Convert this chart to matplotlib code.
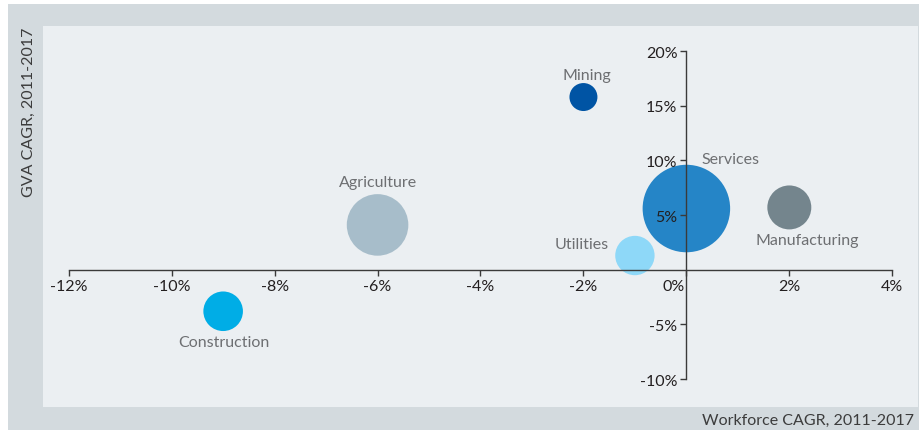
import matplotlib
matplotlib.use("Agg")
import matplotlib.pyplot as plt
from matplotlib.patches import Rectangle
from matplotlib.ticker import FuncFormatter
import matplotlib.transforms as mtransforms

plt.rcParams['font.family'] = ['Lato', 'DejaVu Sans']

# sector data: workforce growth vs. output growth, bubble area ~ sector size
sectors = ["Mining", "Services", "Manufacturing", "Agriculture", "Utilities", "Construction"]
workforce_cagr = [-2.0, 0.0, 2.0, -6.0, -1.0, -9.0]
gva_cagr = [15.8, 5.6, 5.7, 4.1, 1.3, -3.8]
bubble_weight = [196, 1918, 484, 949, 388, 392]

colors = ["#0054a4", "#2585c7", "#74858d", "#a7bdca", "#8ed8f8", "#00ade6"]
# label placement relative to each bubble centre, in pixels
label_offsets = [(3, 22), (44, 50), (18, -33), (0, 43), (-53, 12), (1, -31)]

x_ticks = [-12, -10, -8, -6, -4, -2, 0, 2, 4]
y_ticks = [-10, -5, 5, 10, 15, 20]

W, H = 920, 431
fig = plt.figure(figsize=(W / 100, H / 100), dpi=100)
fig.patch.set_facecolor("white")

# outer grey frame
fig.patches.append(Rectangle((8 / W, 0), 1, (H - 5) / H, transform=fig.transFigure,
                             facecolor="#d3dade", edgecolor="none", zorder=-1))

ax = fig.add_axes([43 / W, (H - 408) / H, 875 / W, 381 / H])
ax.set_facecolor("#ebeff2")
ax.set_xlim(-12.5, 4.5)
ax.set_ylim(-12.56, 22.3)

sizes = [2.07 * w for w in bubble_weight]
ax.scatter(workforce_cagr, gva_cagr, s=sizes, c=colors, linewidths=0, zorder=1)

for name, x, y, off in zip(sectors, workforce_cagr, gva_cagr, label_offsets):
    ax.annotate(name, (x, y), xytext=off, textcoords="offset pixels",
                ha="center", va="center", fontsize=11.5, color="#6d6f72")

# axes crossing at the origin
for side in ["top", "right"]:
    ax.spines[side].set_visible(False)
ax.spines["left"].set_position(("data", 0))
ax.spines["bottom"].set_position(("data", 0))
ax.spines["left"].set_bounds(-10, 20)
ax.spines["bottom"].set_bounds(-12, 4)
for side in ["left", "bottom"]:
    ax.spines[side].set_color("#3a3a3a")
    ax.spines[side].set_linewidth(1.0)

ax.set_xticks(x_ticks)
ax.set_yticks(y_ticks)
pct = FuncFormatter(lambda v, p: "%d%%" % v)
ax.xaxis.set_major_formatter(pct)
ax.yaxis.set_major_formatter(pct)
ax.tick_params(axis="both", direction="out", length=4.5, width=1.0, color="#3a3a3a",
               labelsize=11.5, labelcolor="#231f20", pad=2)

fig.canvas.draw()
# nudge the 0% label off the vertical axis
for lbl in ax.get_xticklabels():
    if lbl.get_text() == "0%":
        lbl.set_transform(lbl.get_transform() +
                          mtransforms.ScaledTranslation(-13 / 100, 0, fig.dpi_scale_trans))

fig.text(29 / W, 1 - 112 / H, "GVA CAGR, 2011-2017", rotation=90, ha="center", va="center",
         fontsize=11.5, color="#3c3c3c")
fig.text(914 / W, 1 - 421 / H, "Workforce CAGR, 2011-2017", ha="right", va="center",
         fontsize=11.5, color="#3c3c3c")

fig.savefig("out.png", dpi=100, facecolor=fig.get_facecolor())
